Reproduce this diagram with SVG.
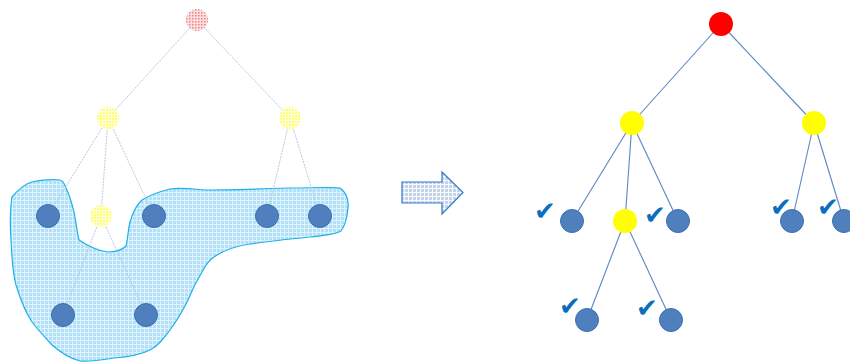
<svg xmlns="http://www.w3.org/2000/svg" width="850" height="363" viewBox="0 0 850 363">
<defs>
<pattern id="pBlob" width="4" height="4" patternUnits="userSpaceOnUse">
<rect width="4" height="4" fill="#b2e1f7"/>
<path d="M0 0.5H4M0.5 0V4" stroke="#ffffff" stroke-width="1" opacity="0.6"/>
</pattern>
<pattern id="pRed" width="3" height="3" patternUnits="userSpaceOnUse">
<rect width="3" height="3" fill="#fbe0e0"/>
<rect x="0" y="0" width="1.5" height="1.5" fill="#ee8080"/>
</pattern>
<pattern id="pYel" width="3" height="3" patternUnits="userSpaceOnUse">
<rect width="3" height="3" fill="#ffff70"/>
<path d="M0 0.5H3M0.5 0V3" stroke="#ffffff" stroke-width="1" opacity="0.8"/>
</pattern>
<pattern id="pArrow" width="4" height="4" patternUnits="userSpaceOnUse">
<rect width="4" height="4" fill="#c2d3ea"/>
<path d="M0 0.5H4M0.5 0V4" stroke="#ffffff" stroke-width="1" opacity="0.9"/>
</pattern>
</defs>
<style>
.fe{stroke:#b7c9e4;stroke-width:1;stroke-dasharray:2 1;fill:none}
.re{stroke:#5a86c2;stroke-width:1.1;fill:none}
.blue{fill:#4f80bd;stroke:#3a70b4;stroke-width:1}
.yel{fill:#ffff00}
.red{fill:#ff0000}
.fy{fill:url(#pYel)}
.fr{fill:url(#pRed)}
.chk{font-family:"DejaVu Sans",sans-serif;font-size:26px;fill:#0a6ebd;text-anchor:middle}
</style>
<g id="blob">
<path d="M12 197 C18 190,24 184,32 182 C42 180,52 179,60 180 C64 181,64 184,66 188 C70 196,72 204,74 212 C76 222,77 232,79 240 C88 246,98 251,108 252 C116 252,122 250,126 246 C128 238,128 230,130 222 C133 212,136 205,142 200 C150 195,158 192,170 189 C180 187,192 189,205 190 C230 190,260 189,290 188 C310 188,328 187,340 188 C346 192,349 200,348 208 C347 218,345 226,341 231 C334 235,325 235,310 237 C290 239,270 241,250 244 C236 246,224 250,214 257 C208 261,205 266,202 272 C196 282,192 290,188 300 C182 312,176 322,170 330 C164 338,158 346,150 350 C140 355,128 357,114 358 C100 360,90 362,80 361 C68 358,60 352,52 345 C44 336,38 330,32 322 C24 310,20 298,16 285 C12 270,12 255,11 240 C10 225,10 210,12 197 Z" fill="url(#pBlob)" stroke="#1ab0ea" stroke-width="1.2"/>
</g>
<g id="connectors">
<line class="fe" x1="197" y1="20" x2="108" y2="118"/>
<line class="fe" x1="197" y1="20" x2="290" y2="118"/>
<line class="fe" x1="108" y1="118" x2="48" y2="216"/>
<line class="fe" x1="108" y1="118" x2="101" y2="216"/>
<line class="fe" x1="108" y1="118" x2="154" y2="216"/>
<line class="fe" x1="290" y1="118" x2="267" y2="216"/>
<line class="fe" x1="290" y1="118" x2="320" y2="216"/>
<line class="fe" x1="101" y1="216" x2="63" y2="315"/>
<line class="fe" x1="101" y1="216" x2="146" y2="315"/>
<line class="re" x1="721" y1="24" x2="632" y2="123"/>
<line class="re" x1="721" y1="24" x2="814" y2="123"/>
<line class="re" x1="632" y1="123" x2="572" y2="221"/>
<line class="re" x1="632" y1="123" x2="625" y2="221"/>
<line class="re" x1="632" y1="123" x2="678" y2="221"/>
<line class="re" x1="814" y1="123" x2="792" y2="221"/>
<line class="re" x1="814" y1="123" x2="844" y2="221"/>
<line class="re" x1="625" y1="221" x2="587" y2="320"/>
<line class="re" x1="625" y1="221" x2="671" y2="320"/>
</g>
<g id="left-root"><circle class="fr" cx="197" cy="20" r="11"/></g>
<g id="left-y1"><circle class="fy" cx="108" cy="118" r="11"/></g>
<g id="left-y2"><circle class="fy" cx="290" cy="118" r="11"/></g>
<g id="left-y3"><circle class="fy" cx="101" cy="216" r="11"/></g>
<g id="left-b1"><circle class="blue" cx="48" cy="216" r="11.5"/></g>
<g id="left-b2"><circle class="blue" cx="154" cy="216" r="11.5"/></g>
<g id="left-b3"><circle class="blue" cx="267" cy="216" r="11.5"/></g>
<g id="left-b4"><circle class="blue" cx="320" cy="216" r="11.5"/></g>
<g id="left-b5"><circle class="blue" cx="63" cy="315" r="11.5"/></g>
<g id="left-b6"><circle class="blue" cx="146" cy="315" r="11.5"/></g>
<g id="arrow"><path d="M402 182 H442 V172 L463 192.5 L442 214 V203 H402 Z" fill="url(#pArrow)" stroke="#2f7ac4" stroke-width="1.2"/></g>
<g id="right-root"><circle class="red" cx="721" cy="24" r="12"/></g>
<g id="right-y1"><circle class="yel" cx="632" cy="123" r="12"/></g>
<g id="right-y2"><circle class="yel" cx="814" cy="123" r="12"/></g>
<g id="right-y3"><circle class="yel" cx="625" cy="221" r="12"/></g>
<g id="right-b1"><circle class="blue" cx="572" cy="221" r="11.5"/><text class="chk" x="545" y="220">✔</text></g>
<g id="right-b2"><circle class="blue" cx="678" cy="221" r="11.5"/><text class="chk" x="655" y="224">✔</text></g>
<g id="right-b3"><circle class="blue" cx="792" cy="221" r="11.5"/><text class="chk" x="781" y="216">✔</text></g>
<g id="right-b4"><circle class="blue" cx="844" cy="221" r="11.5"/><text class="chk" x="828" y="216">✔</text></g>
<g id="right-b5"><circle class="blue" cx="587" cy="320" r="11.5"/><text class="chk" x="570" y="315">✔</text></g>
<g id="right-b6"><circle class="blue" cx="671" cy="320" r="11.5"/><text class="chk" x="647" y="317">✔</text></g>
</svg>
